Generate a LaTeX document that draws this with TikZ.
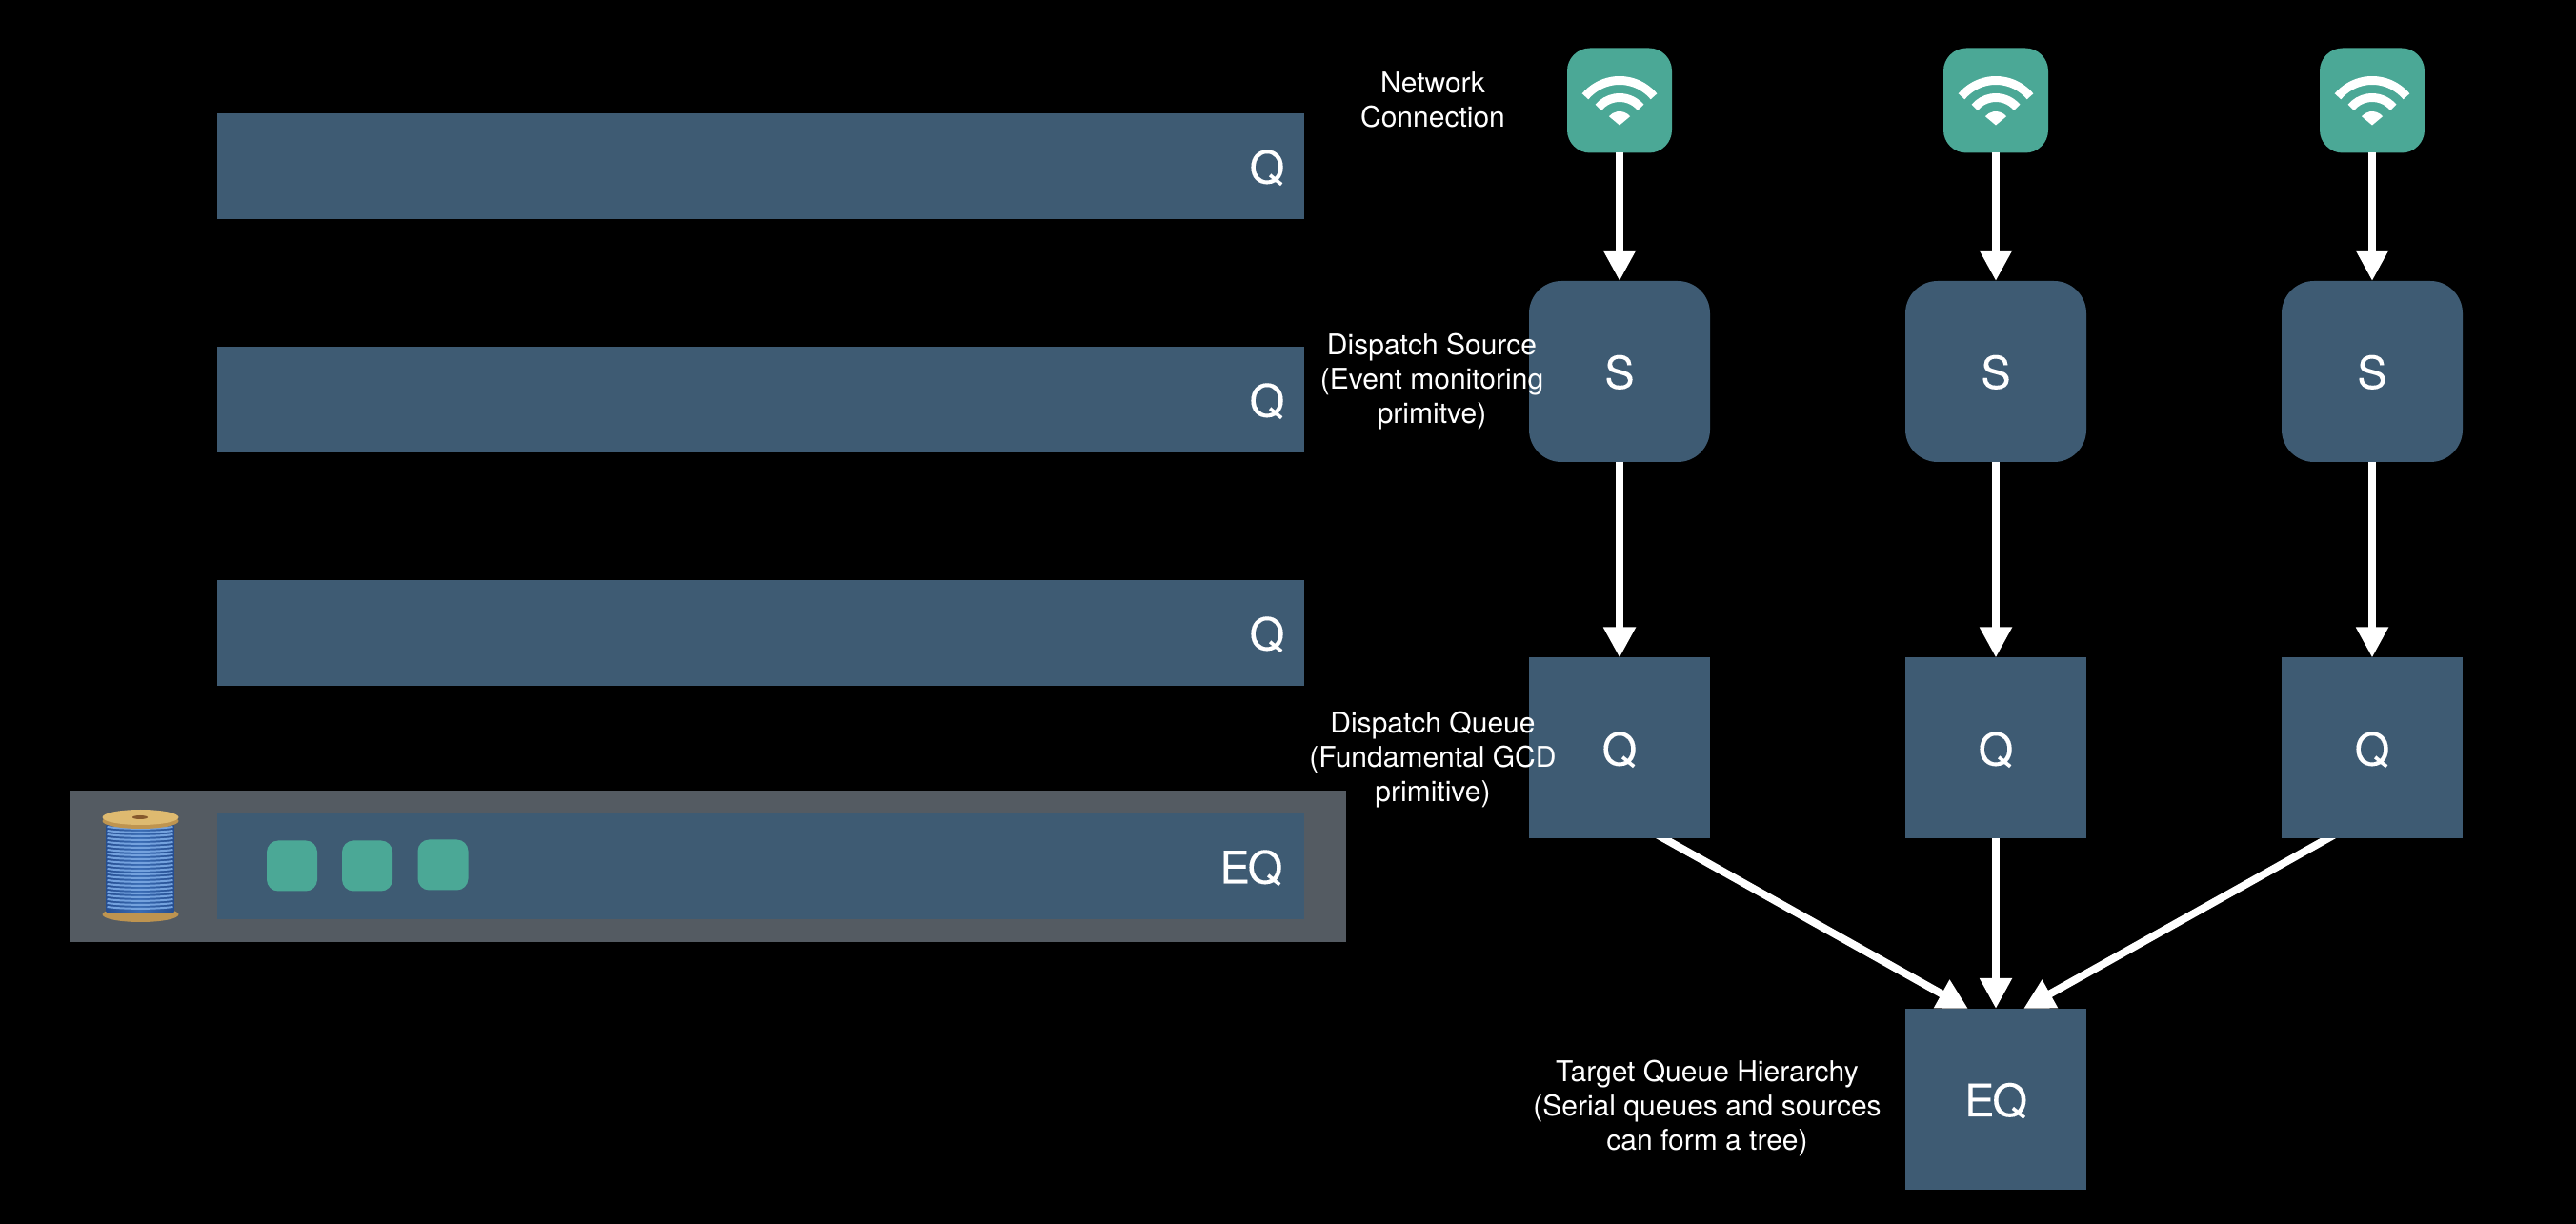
\documentclass[tikz,border=0pt]{standalone}
\usepackage{fontspec}
\setmainfont{TeX Gyre Heros}
\newfontfamily\boxfont[FakeBold=0.12]{TeX Gyre Heros}
\usepackage{tikz}
\usetikzlibrary{arrows.meta,calc,backgrounds}

\definecolor{queueblue}{RGB}{62,91,115}
\definecolor{iconteal}{RGB}{75,168,150}
\definecolor{framegrey}{RGB}{84,91,98}
\definecolor{woodtop}{RGB}{222,186,112}
\definecolor{woodside}{RGB}{190,148,80}
\definecolor{threaddark}{RGB}{38,78,144}
\definecolor{threadmid}{RGB}{58,108,180}
\definecolor{threadlight}{RGB}{116,162,222}

\tikzset{
    boxtext/.style={text=white, font=\boxfont\fontsize{13.4}{16}\selectfont, inner sep=0pt, text height=0.36cm, text depth=0pt},
    sidetext/.style={text=white, align=center, inner sep=0pt, font=\fontsize{8.54}{10.25}\selectfont},
    queuebar/.style={fill=queueblue, minimum width=11.41cm, minimum height=1.11cm, inner sep=0pt, outer sep=0pt},
    queuebox/.style={boxtext, fill=queueblue, minimum size=1.9cm, outer sep=0pt},
    sourcebox/.style={queuebox, rounded corners=0.34cm},
    wifibox/.style={fill=iconteal, minimum size=1.1cm, rounded corners=0.24cm, inner sep=0pt, outer sep=0pt},
    workitem/.style={fill=iconteal, minimum size=0.53cm, rounded corners=0.12cm, inner sep=0pt, outer sep=0pt},
    conn/.style={draw=white, line width=0.08cm, -{Triangle[length=0.32cm,width=0.32cm]}},
    wifiglyph/.pic={
        \draw[white, line width=0.09cm] (0,-0.26) ++(40:0.47) arc[start angle=40, end angle=140, radius=0.47];
        \draw[white, line width=0.09cm] (0,-0.26) ++(40:0.29) arc[start angle=40, end angle=140, radius=0.29];
        \fill[white] (0,-0.26) -- ++(40:0.145) arc[start angle=40, end angle=140, radius=0.145] -- cycle;
    }
}

\begin{document}
\begin{tikzpicture}
        \useasboundingbox (0,0) rectangle (27.04,12.84);
        \begin{scope}[on background layer]
            \fill[black] (-0.1,-0.1) rectangle (27.14,12.94);
        \end{scope}

        \node[queuebar] (B1) at (7.985, 11.095) {};
        \node[boxtext, anchor=east] (B1Q) at (13.49, 11.095) {Q};
        \node[queuebar] (B2) at (7.985, 8.645) {};
        \node[boxtext, anchor=east] (B2Q) at (13.49, 8.645) {Q};
        \node[queuebar] (B3) at (7.985, 6.195) {};
        \node[boxtext, anchor=east] (B3Q) at (13.49, 6.195) {Q};

        \node[fill=framegrey, minimum width=13.39cm, minimum height=1.59cm, inner sep=0pt] (F) at (7.435, 3.745) {};
        \node[queuebar] (B4) at (7.985, 3.745) {};
        \node[boxtext, anchor=east] (B4Q) at (13.47, 3.745) {E\kern-0.6pt Q};
        \node[workitem] (T1) at (3.065, 3.75) {};
        \node[workitem] (T2) at (3.855, 3.75) {};
        \node[workitem] (T3) at (4.65, 3.76) {};

        \fill[woodside] (1.475, 3.24) ellipse (0.40 and 0.08);
        \shade[left color=threaddark, right color=threaddark, middle color=threadmid] (1.115, 3.26) rectangle (1.825, 4.17);
        \foreach \y in {3.32,3.36,...,4.16}
            \draw[threadlight, line width=0.02cm] (1.125, \y) .. controls (1.3, \y-0.025) and (1.64, \y-0.025) .. (1.815, \y);
        \fill[woodside] (1.475, 4.22) ellipse (0.40 and 0.08);
        \fill[woodtop] (1.475, 4.26) ellipse (0.40 and 0.08);
        \fill[black!30!brown] (1.47, 4.26) ellipse (0.08 and 0.02);

        \node[wifibox] (W1) at (17.00, 11.785) {};
        \pic at (W1) {wifiglyph};
        \node[wifibox] (W2) at (20.95, 11.785) {};
        \pic at (W2) {wifiglyph};
        \node[wifibox] (W3) at (24.90, 11.785) {};
        \pic at (W3) {wifiglyph};

        \node[sourcebox] (S1) at (17.00, 8.94) {S};
        \node[sourcebox] (S2) at (20.95, 8.94) {S};
        \node[sourcebox] (S3) at (24.90, 8.94) {S};

        \node[queuebox] (Q1) at (17.00, 4.985) {Q};
        \node[queuebox] (Q2) at (20.95, 4.985) {Q};
        \node[queuebox] (Q3) at (24.90, 4.985) {Q};

        \node[queuebox] (E) at (20.95, 1.30) {E\kern-0.6pt Q};

        \draw[conn] (W1) to (S1);
        \draw[conn] (W2) to (S2);
        \draw[conn] (W3) to (S3);
        \draw[conn] (S1) to (Q1);
        \draw[conn] (S2) to (Q2);
        \draw[conn] (S3) to (Q3);
        \draw[conn] (Q2) to (E);
        \begin{scope}[on background layer]
            \draw[conn, shorten <=-0.1cm] ($(Q1.south)+(0.47,0)$) to ($(E.north)+(-0.29,0)$);
            \draw[conn, shorten <=-0.1cm] ($(Q3.south)+(-0.47,0)$) to ($(E.north)+(0.29,0)$);
        \end{scope}

        \node[sidetext] (L1) at (15.04, 11.79) {Network\\Connection};
        \node[sidetext] (L2) at (15.03, 8.83) {Dispatch Source\\(Event monitoring\\primitve)};
        \node[sidetext] (L3) at (15.04, 4.86) {Dispatch Queue\\(Fundamental GCD\\primitive)};
        \node[sidetext] (L4) at (17.92, 1.205) {Target Queue Hierarchy\\(Serial queues and sources\\can form a tree)};
\end{tikzpicture}
\end{document}
